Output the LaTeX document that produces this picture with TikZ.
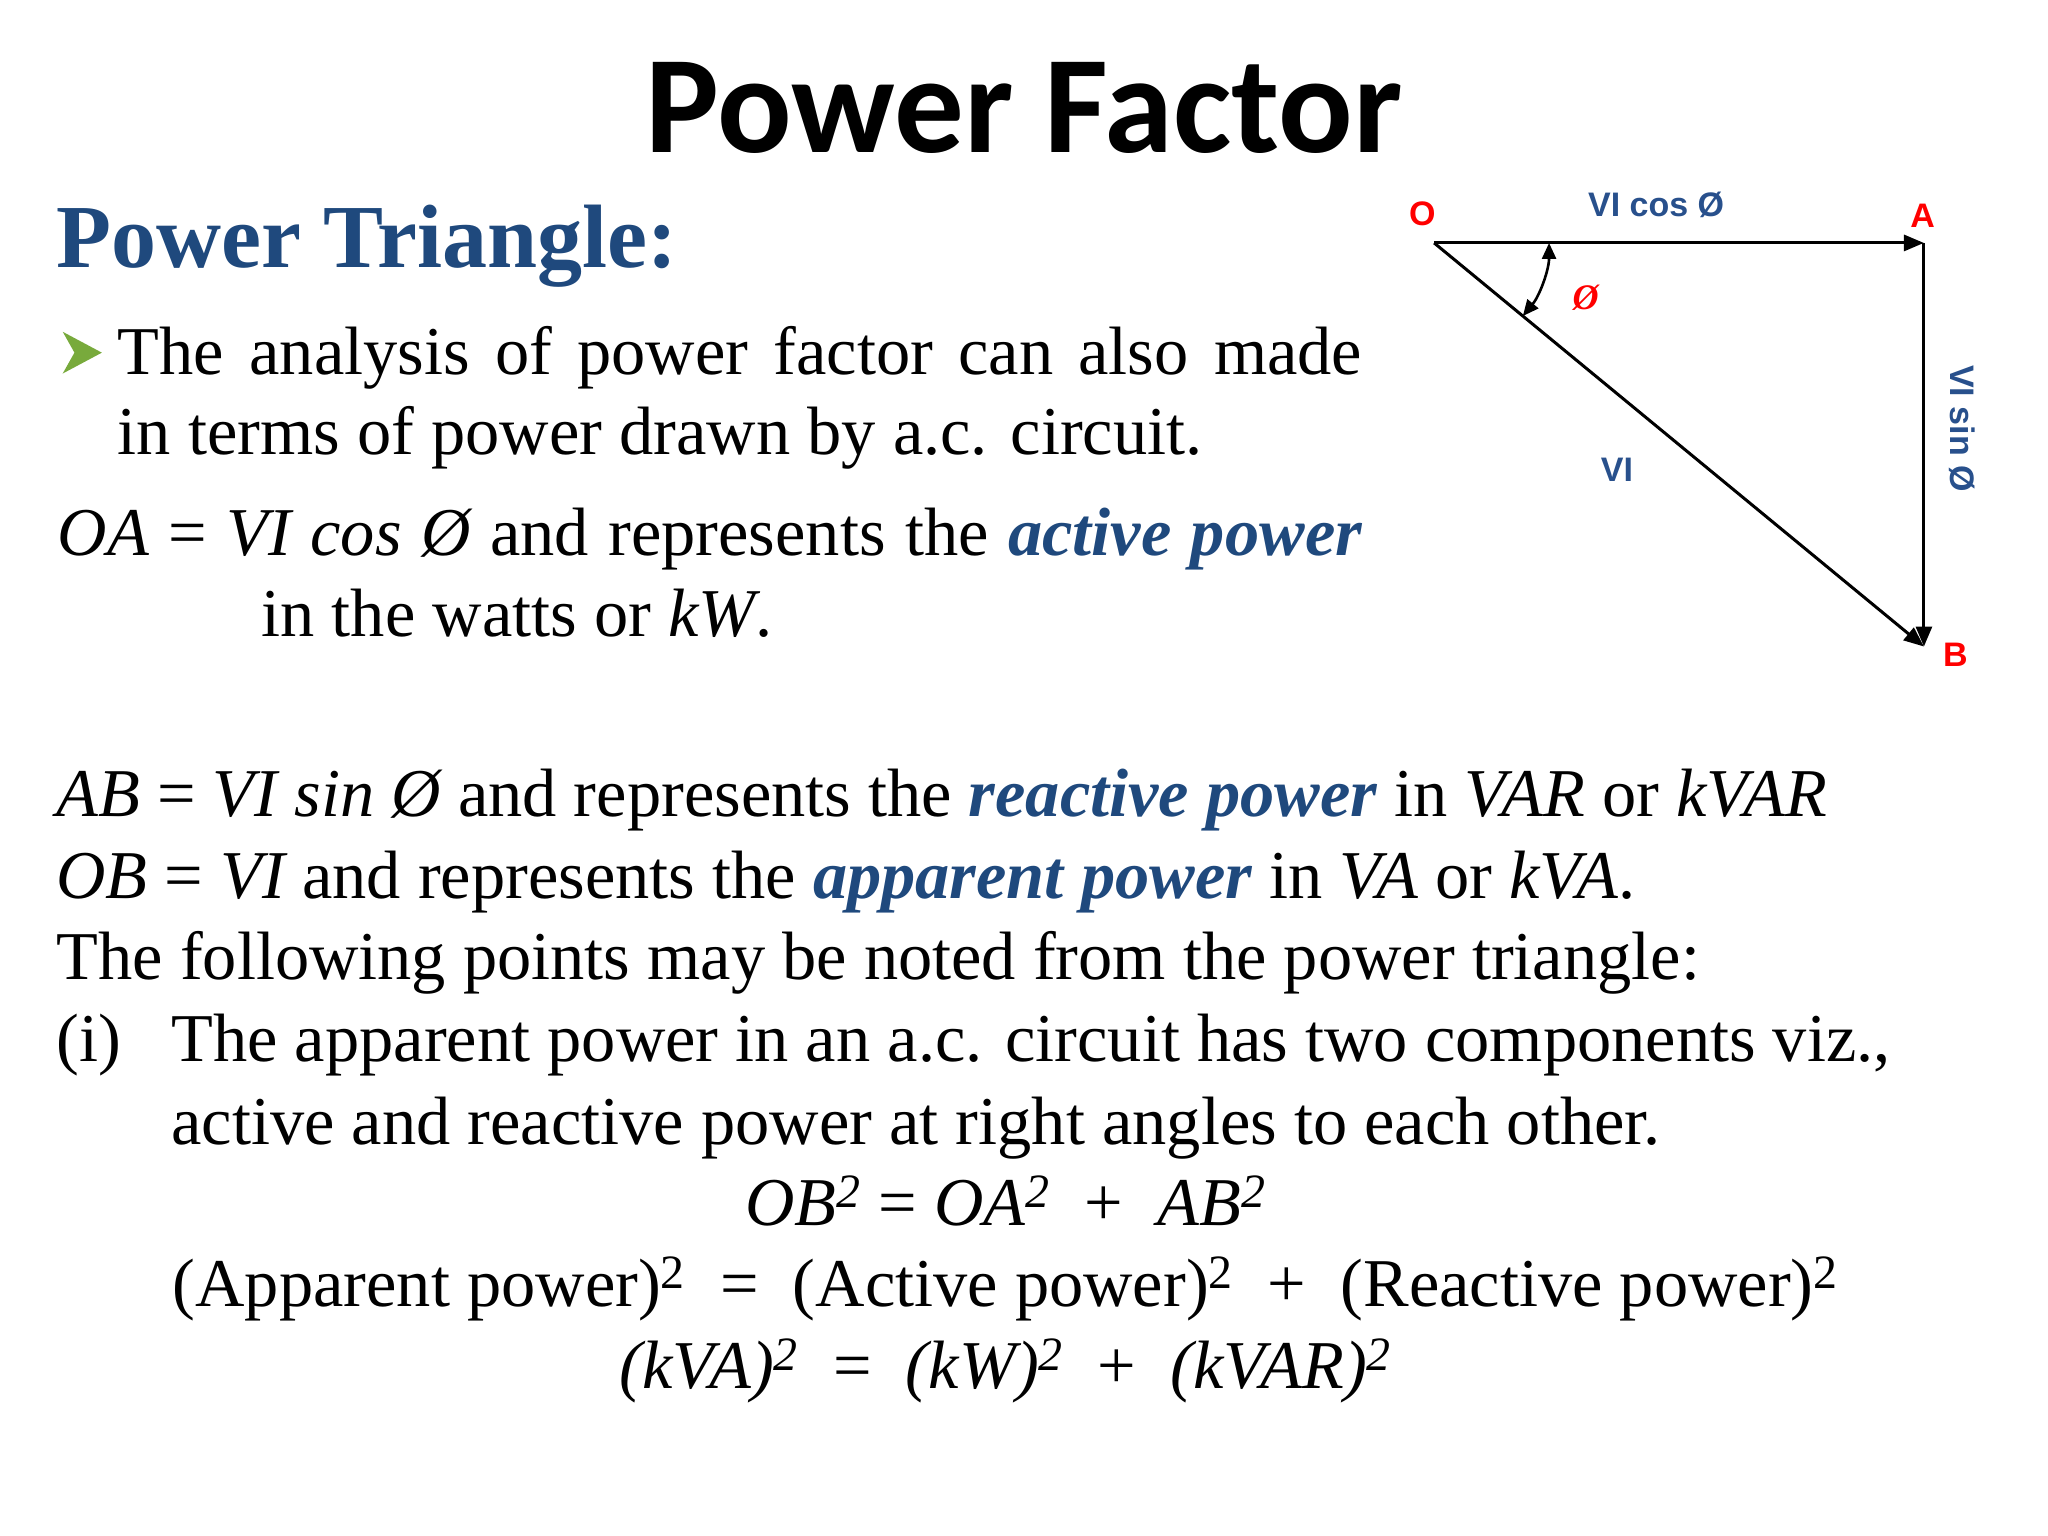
\documentclass[tikz,border=0pt]{standalone}
\usepackage{fontspec}
\setmainfont{Liberation Serif}
\newfontfamily\titlefont{Carlito}
\newfontfamily\diagfont{Liberation Sans}
\usetikzlibrary{arrows.meta,calc}
\definecolor{dblue}{RGB}{31,73,125}
\definecolor{lblue}{RGB}{40,80,140}
\definecolor{bulgreen}{RGB}{120,170,60}
\tikzset{
 body/.style={anchor=base west,inner sep=0pt,font=\fontsize{34.2}{40}\selectfont},
 bodyc/.style={anchor=base,inner sep=0pt,font=\fontsize{34.2}{40}\selectfont},
 pt/.style={font=\diagfont\bfseries\fontsize{17}{19}\selectfont,text=red,inner sep=1pt},
 lab/.style={font=\diagfont\bfseries\fontsize{17}{19}\selectfont,text=lblue,inner sep=1pt},
 vec/.style={draw,line width=1.5pt,-{Triangle[length=10pt,width=8pt]}},
}
\newcommand{\hl}[1]{{\color{dblue}\bfseries\itshape #1}}
\begin{document}
\begin{tikzpicture}[x=0.653pt,y=-0.653pt]
\useasboundingbox (0,0) rectangle (1568,1176);
\node[anchor=base,inner sep=0pt,font=\titlefont\bfseries\fontsize{69.5}{78}\selectfont] (title) at (784,117) {Power Factor};
\node[anchor=base west,inner sep=0pt,text=dblue,font=\bfseries\fontsize{45}{50}\selectfont] (sub) at (43,205) {Power Triangle:};
\fill[bulgreen] (48,254) -- (78,270) -- (48,286) -- (57,270) -- cycle;
\node[body] (l1) at (90,287) {\makebox[622pt][s]{The analysis of power factor can also made}};
\node[body] (l2) at (90,348) {in terms of power drawn by a.c. circuit.};
\node[body] (l3) at (44,425) {\makebox[652pt][s]{\itshape OA \upshape= \itshape VI cos Ø \upshape and represents the \hl{active power}}};
\node[body] (l4) at (200,487) {in the watts or \itshape kW\upshape.};
\node[body] (l5) at (43,625) {\itshape AB \upshape= \itshape VI sin Ø \upshape and represents the \hl{reactive power} in \itshape VAR \upshape or \itshape kVAR};
\node[body] (l6) at (43,688) {\itshape OB \upshape= \itshape VI \upshape and represents the \hl{apparent power} in \itshape VA \upshape or \itshape kVA\upshape.};
\node[body] (l7) at (43,750) {The following points may be noted from the power triangle:};
\node[body] (l8) at (43,813) {(i)};
\node[body] (l9) at (131,813) {The apparent power in an a.c. circuit has two components viz.,};
\node[body] (l10) at (131,876) {active and reactive power at right angles to each other.};
\node[bodyc] (e1) at (770,938) {\itshape OB\textsuperscript{2} \upshape= \itshape OA\textsuperscript{2}\upshape\ \ +\ \ \itshape AB\textsuperscript{2}};
\node[bodyc] (e2) at (770,1000) {(Apparent power)\textsuperscript{2}\ \ =\ \ (Active power)\textsuperscript{2}\ \ +\ \ (Reactive power)\textsuperscript{2}};
\node[bodyc] (e3) at (770,1063) {\itshape (kVA)\textsuperscript{2}\upshape\ \ =\ \ \itshape (kW)\textsuperscript{2}\upshape\ \ +\ \ \itshape (kVAR)\textsuperscript{2}};
% triangle
\coordinate (O) at (1098,186);
\coordinate (A) at (1473,186);
\coordinate (B) at (1473,495);
\draw[vec] (O) -- (A);
\draw[vec] (A) -- (B);
\draw[vec] (O) -- (B);
\draw[line width=1.3pt,{Triangle[length=8pt,width=7pt]}-{Triangle[length=8pt,width=7pt]}] ($(O)+(88,0)$) arc[start angle=0,end angle=39.5,radius=88];
\node[pt] (nO) at (1089,164) {O};
\node[pt] (nA) at (1472,165) {A};
\node[pt] (nB) at (1497,501) {B};
\node[pt,font=\itshape\bfseries\fontsize{18}{22}\selectfont] (phi) at (1214,228) {Ø};
\node[lab] (lc) at (1268,157) {VI cos Ø};
\node[lab] (lv) at (1238,360) {VI};
\node[lab,rotate=-90] (ls) at (1502,328) {VI sin Ø};
\end{tikzpicture}
\end{document}
